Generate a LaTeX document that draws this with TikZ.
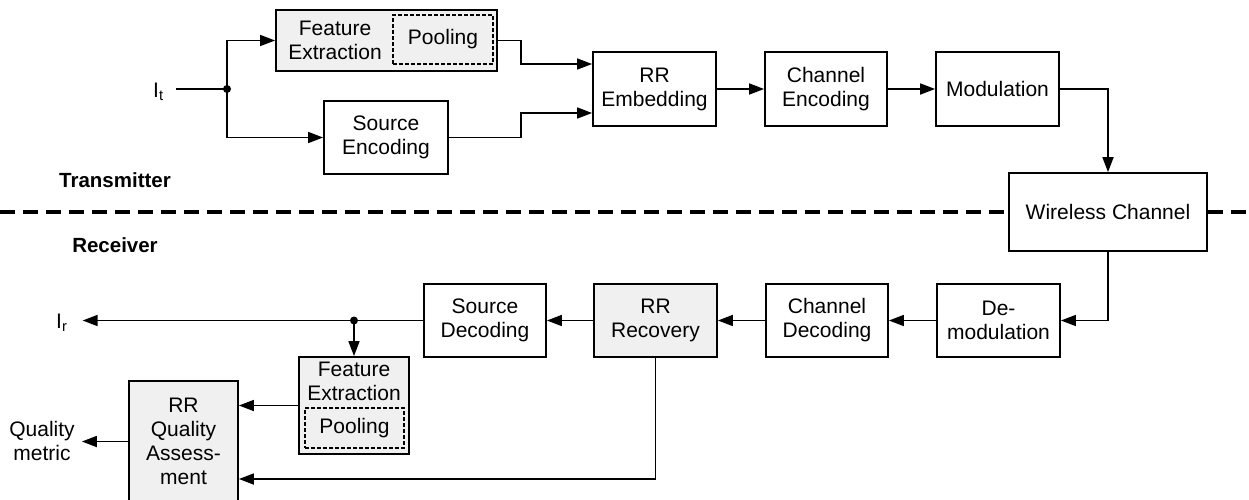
\documentclass[tikz,border=0pt]{standalone}
\usepackage{fontspec}
\setmainfont{Liberation Sans}
\usetikzlibrary{arrows.meta,calc}
\tikzset{
  txt/.style={font=\fontsize{21}{24}\selectfont},
  blk/.style={draw, line width=1.8pt, inner sep=0pt, align=center, txt},
  shd/.style={blk, fill=gray!12},
  pool/.style={draw, line width=1.5pt, dash pattern=on 4pt off 2pt, inner sep=0pt, txt},
  lbl/.style={inner sep=0pt, align=center, txt},
  conn/.style={line width=1.7pt},
  arr/.style={conn, -{Triangle[length=15pt,width=11pt]}},
  sepline/.style={line width=3.2pt, dash pattern=on 15pt off 8pt},
}
\begin{document}
\begin{tikzpicture}[x=1pt,y=-1pt]
\useasboundingbox (0,0) rectangle (1249,499);
% ---------- Transmitter ----------
\node[shd, minimum width=221pt, minimum height=61pt] (fe1) at (386.5,40.5) {};
\node[lbl] (fe1t) at (335,40) {Feature\\Extraction};
\node[pool, minimum width=100pt, minimum height=49pt] (pool1) at (443,39.5) {Pooling};
\node[lbl, anchor=base west] (it) at (153,97) {I\textsubscript{t}};
\coordinate (j1) at (227,89);
\node[blk, minimum width=124pt, minimum height=73pt] (se) at (386,137.5) {Source\\Encoding};
\node[blk, minimum width=123pt, minimum height=74pt] (rre) at (654.5,89) {RR\\Embedding};
\node[blk, minimum width=122pt, minimum height=74pt] (ce) at (826,89) {Channel\\Encoding};
\node[blk, minimum width=123pt, minimum height=74pt] (mod) at (997.5,89) {Modulation};
\node[blk, minimum width=198pt, minimum height=78pt] (wc) at (1108,212) {Wireless Channel};
\node[lbl, font=\fontsize{20.5}{24}\selectfont\bfseries] (tx) at (115,180) {Transmitter};
\node[lbl, font=\fontsize{20.5}{24}\selectfont\bfseries] (rx) at (115,245) {Receiver};
\coordinate (dl) at (0,212);
\coordinate (dr) at (1249,212);
\draw[sepline] (dl) -- (wc.west);
\draw[sepline] (wc.east) -- (dr);

\draw[conn, shorten <=12pt] (it.east |- j1) -- (j1);
\fill (j1) circle (4pt);
\draw[arr] (j1) |- (fe1.west);
\draw[arr] (j1) |- (se.west);
\draw[arr] (fe1.east) -- ++(23,0) |- ($(rre.west)+(0,-25)$);
\draw[arr] (se.east) -- ++(72,0) |- ($(rre.west)+(0,24)$);
\draw[arr] (rre) -- (ce);
\draw[arr] (ce) -- (mod);
\draw[arr] (mod.east) -| (wc.north);

% ---------- Receiver ----------
\node[blk, minimum width=123pt, minimum height=73pt] (dem) at (998.5,320.5) {De-\\modulation};
\node[blk, minimum width=122pt, minimum height=73pt] (cd) at (827,320.5) {Channel\\Decoding};
\node[shd, minimum width=123pt, minimum height=73pt] (rrr) at (655.5,320.5) {RR\\Recovery};
\node[blk, minimum width=122pt, minimum height=73pt] (sd) at (485,320.5) {Source\\Decoding};
\node[lbl, anchor=base west] (ir) at (56,328) {I\textsubscript{r}};
\node[shd, minimum width=110pt, minimum height=97pt] (fe2) at (354,405.5) {};
\node[lbl] (fe2t) at (354,381) {Feature\\Extraction};
\node[pool, minimum width=99pt, minimum height=40pt] (pool2) at (354.5,428) {Pooling};
\node[shd, minimum width=109pt, minimum height=121pt] (qa) at (183.5,441.5) {RR\\Quality\\Assess-\\ment};
\node[lbl] (qm) at (42,441) {Quality\\metric};
\coordinate (j2) at (fe2.north |- sd.west);

\draw[arr] (wc.south) |- (dem.east);
\draw[arr] (dem) -- (cd);
\draw[arr] (cd) -- (rrr);
\draw[arr] (rrr) -- (sd);
\draw[arr, shorten >=15pt] (sd.west) -- (sd.west -| ir.east);
\fill (j2) circle (4pt);
\draw[arr] (j2) -- (fe2.north);
\draw[arr] (fe2.west) -- (fe2.west -| qa.east);
\draw[arr] (rrr.south) |- ($(qa.east)+(0,37.5)$);
\draw[arr, shorten >=7pt] (qa.west) -- (qa.west -| qm.east);
\end{tikzpicture}
\end{document}
